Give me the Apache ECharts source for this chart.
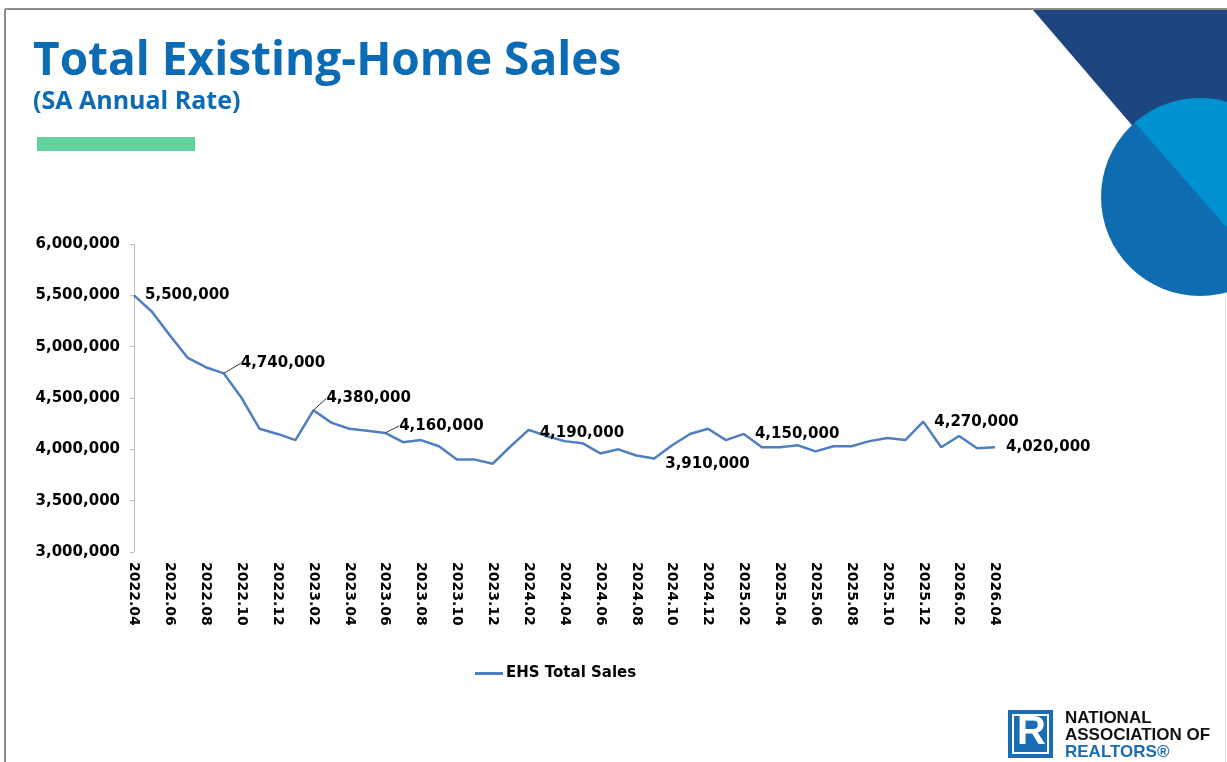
<!DOCTYPE html>
<html>
<head>
<meta charset="utf-8">
<script src="https://cdn.jsdelivr.net/npm/echarts@6/dist/echarts.min.js"></script>
<style>
	html, body { margin: 0; padding: 0; background: #fff; }
	#chart { width: 1227px; height: 762px; }
</style>
</head>
<body>
<div id="chart"></div>
<script>
	// months shown on the x axis (every month, labels every other one)
	var months = [
		'2022.04', '2022.05', '2022.06', '2022.07', '2022.08', '2022.09', '2022.10', '2022.11', '2022.12',
		'2023.01', '2023.02', '2023.03', '2023.04', '2023.05', '2023.06', '2023.07', '2023.08', '2023.09', '2023.10', '2023.11', '2023.12',
		'2024.01', '2024.02', '2024.03', '2024.04', '2024.05', '2024.06', '2024.07', '2024.08', '2024.09', '2024.10', '2024.11', '2024.12',
		'2025.01', '2025.02', '2025.03', '2025.04', '2025.05', '2025.06', '2025.07', '2025.08', '2025.09', '2025.10', '2025.11', '2025.12',
		'2026.01', '2026.02', '2026.03', '2026.04'
	];
	// EHS total sales, SA annual rate
	var ehsSales = [
		5500000, 5340000, 5110000, 4890000, 4800000, 4740000, 4500000, 4200000, 4150000,
		4090000, 4380000, 4260000, 4200000, 4180000, 4160000, 4070000, 4090000, 4030000, 3900000, 3900000, 3860000,
		4030000, 4190000, 4130000, 4080000, 4060000, 3960000, 4000000, 3940000, 3910000, 4040000, 4150000, 4200000,
		4090000, 4150000, 4020000, 4020000, 4040000, 3980000, 4030000, 4030000, 4080000, 4110000, 4090000, 4270000,
		4020000, 4130000, 4010000, 4020000
	];
	// points that carry a value label
	var labeledMonths = ['2022.04', '2022.09', '2023.02', '2023.06', '2024.02', '2024.09', '2025.02', '2025.12', '2026.04'];
	var yTicks = { min: 3000000, max: 6000000, step: 500000 };

	// label nudges (px) so labels sit like the original, those with a leader line
	var labelNudge = {
		'2022.09': [6, -10],
		'2023.02': [2, -12],
		'2023.06': [3, -7],
		'2024.02': [0, 3],
		'2024.09': [0, 6]
	};
	var leaderMonths = ['2022.09', '2023.02', '2023.06'];

	var fmt = function (v) {
		return String(v).replace(/\B(?=(\d{3})+(?!\d))/g, ',');
	};

	var chartFont = 'DejaVu Sans';
	var lineColor = '#4f7fbf';
	var titleBlue = '#0b6bb5';

	var seriesData = ehsSales.map(function (v, i) {
		var m = months[i];
		if (labeledMonths.indexOf(m) < 0) return v;
		return {
			value: v,
			label: {
				show: true,
				position: 'right',
				distance: 11
			},
			labelLine: {
				show: leaderMonths.indexOf(m) >= 0
			}
		};
	});

	var myChart = echarts.init(document.getElementById('chart'));

	var option = {
		animation: false,
		textStyle: { fontFamily: chartFont },
		title: [{
			text: 'Total Existing-Home Sales',
			left: 33,
			top: 39,
			padding: 0,
			textStyle: {
				fontFamily: 'Open Sans',
				fontWeight: 'bold',
				fontSize: 46,
				color: titleBlue
			}
		}, {
			text: '(SA Annual Rate)',
			left: 33,
			top: 89,
			padding: 0,
			textStyle: {
				fontFamily: 'Open Sans',
				fontWeight: 'bold',
				fontSize: 25,
				color: titleBlue
			}
		}],
		legend: {
			left: 470,
			top: 661,
			icon: 'rect',
			itemWidth: 28,
			itemHeight: 3,
			itemGap: 4,
			textStyle: {
				fontFamily: chartFont,
				fontWeight: 'bold',
				fontSize: 15,
				color: '#000',
				padding: [0, 0, 0, -2]
			},
			data: ['EHS Total Sales']
		},
		grid: {
			left: 134,
			right: 232,
			top: 244,
			bottom: 210
		},
		xAxis: {
			type: 'category',
			boundaryGap: false,
			data: months,
			axisLine: { show: false },
			axisTick: { show: false },
			axisLabel: {
				interval: 1,
				rotate: -90,
				margin: 10,
				fontFamily: chartFont,
				fontWeight: 'bold',
				fontSize: 14,
				color: '#000'
			}
		},
		yAxis: {
			type: 'value',
			min: yTicks.min,
			max: yTicks.max,
			interval: yTicks.step,
			splitLine: { show: false },
			axisLine: { show: true, lineStyle: { color: '#bfbfbf', width: 1 } },
			axisTick: { show: true, length: 4, lineStyle: { color: '#bfbfbf' } },
			axisLabel: {
				margin: 14,
				fontFamily: chartFont,
				fontWeight: 'bold',
				fontSize: 15,
				color: '#000',
				formatter: fmt
			}
		},
		series: [{
			name: 'EHS Total Sales',
			type: 'line',
			symbol: 'circle',
			symbolSize: 0.1,
			color: lineColor,
			lineStyle: { width: 2.5, color: lineColor },
			label: {
				show: false,
				fontFamily: chartFont,
				fontWeight: 'bold',
				fontSize: 15,
				color: '#000',
				formatter: function (p) { return fmt(p.value); }
			},
			labelLine: {
				show: false,
				showAbove: true,
				length2: 0,
				lineStyle: { color: '#333', width: 1 }
			},
			labelLayout: function (params) {
				var m = months[params.dataIndex];
				var nudge = labelNudge[m] || [0, 0];
				return {
					dx: nudge[0],
					dy: nudge[1]
				};
			},
			data: seriesData
		}],
		graphic: [
			// slide frame
			{ type: 'line', shape: { x1: 5, y1: 9, x2: 1227, y2: 9 }, style: { stroke: '#8c8c8c', lineWidth: 2 }, z: 1 },
			{ type: 'line', shape: { x1: 5, y1: 9, x2: 5, y2: 762 }, style: { stroke: '#8c8c8c', lineWidth: 2 }, z: 1 },
			{ type: 'line', shape: { x1: 1225.5, y1: 10, x2: 1225.5, y2: 762 }, style: { stroke: '#e2e2e2', lineWidth: 1 }, z: 1 },
			// green accent bar
			{ type: 'rect', shape: { x: 37, y: 137, width: 158, height: 14 }, style: { fill: '#62d29c' } },
			// corner decoration
			{ type: 'polygon', shape: { points: [[1033, 10], [1227, 10], [1227, 236]] }, style: { fill: '#1d4580' }, z: 2 },
			{ type: 'circle', shape: { cx: 1200, cy: 197, r: 99 }, style: { fill: '#0f6cb0' }, z: 3 },
			{ type: 'sector', shape: { cx: 1200, cy: 197, r: 99, r0: 0, startAngle: -2.29, endAngle: 0.85, clockwise: true }, style: { fill: '#0091d0' }, z: 4 },
			// logo
			{ type: 'rect', shape: { x: 1008, y: 710, width: 45, height: 48 }, style: { fill: '#1a6db5' }, z: 5 },
			{ type: 'rect', shape: { x: 1013, y: 715, width: 35, height: 38 }, style: { fill: 'none', stroke: '#fff', lineWidth: 2 }, z: 6 },
			{ type: 'text', left: 1017, top: 713, style: { text: 'R', fill: '#fff', font: 'bold 40px "Liberation Sans"' }, z: 6 },
			{ type: 'text', left: 1065, top: 710, style: { text: 'NATIONAL', fill: '#111', font: 'bold 17px "Liberation Sans"' }, z: 6 },
			{ type: 'text', left: 1065, top: 727, style: { text: 'ASSOCIATION OF', fill: '#111', font: 'bold 17px "Liberation Sans"' }, z: 6 },
			{ type: 'text', left: 1065, top: 744, style: { text: 'REALTORS\u00ae', fill: '#1a6db5', font: 'bold 17px "Liberation Sans"' }, z: 6 }
		]
	};

	myChart.setOption(option, true);
</script>
</body>
</html>
